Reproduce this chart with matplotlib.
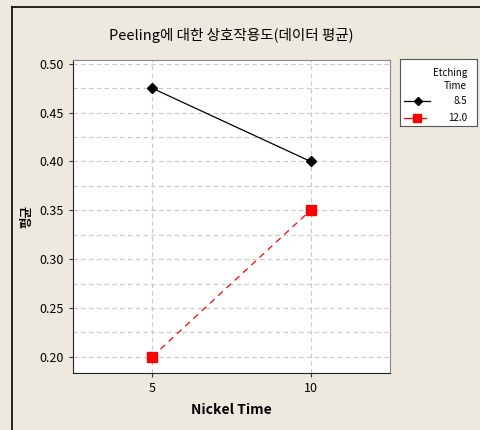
import matplotlib.pyplot as plt
from matplotlib.lines import Line2D

plt.rcParams['font.family'] = ['Noto Sans CJK KR', 'DejaVu Sans']

# Interaction plot data: mean peeling per nickel time, one line per etching time
nickel_time = [5, 10]
etching_levels = ["8.5", "12.0"]
means_85 = [0.475, 0.400]
means_120 = [0.200, 0.350]

y_ticks = [0.20, 0.25, 0.30, 0.35, 0.40, 0.45, 0.50]
y_labels = ["0.20", "0.25", "0.30", "0.35", "0.40", "0.45", "0.50"]

bg = "#ede9df"
W, H = 480, 430
fig = plt.figure(figsize=(4.8, 4.3), dpi=100, facecolor=bg)
ax = fig.add_axes([0.152, 0.133, 0.660, 0.728])
ax.set_facecolor("white")

# window frame lines
fig.add_artist(Line2D([12 / W, 12 / W], [0, 1 - 7 / H], color="black", lw=1.2))
fig.add_artist(Line2D([12 / W, 1], [1 - 7 / H, 1 - 7 / H], color="black", lw=1.2))

styles = [
    dict(color="black", lw=0.9, ls="-", marker="D", ms=5),
    dict(color="red", lw=0.9, ls=(0, (5, 4)), marker="s", ms=6.5),
]
ax.plot(nickel_time, means_85, zorder=3, **styles[0])
ax.plot(nickel_time, means_120, zorder=3, **styles[1])

ax.set_xlim(2.5, 12.5)
ax.set_ylim(0.1836, 0.5041)
ax.set_xticks(nickel_time)
ax.set_yticks(y_ticks)
ax.set_yticklabels(y_labels)
ax.set_yticks([0.225, 0.275, 0.325, 0.375, 0.425, 0.475], minor=True)
ax.tick_params(axis="y", which="minor", length=0)
ax.tick_params(labelsize=9, length=3, color="#333333")
ax.grid(True, which="both", color="#c8c8c8", ls=(0, (4, 3)), lw=0.8)
ax.set_axisbelow(True)
for side in ["top", "right"]:
    ax.spines[side].set_color("#888888")
for side in ["left", "bottom"]:
    ax.spines[side].set_color("#222222")

ax.set_title("Peeling에 대한 상호작용도(데이터 평균)", fontsize=10.5, pad=14)
ax.set_xlabel("Nickel Time", fontsize=10, fontweight="bold", labelpad=6)
ax.set_ylabel("평균", fontsize=9, fontweight="bold", labelpad=4)

# legend box drawn in its own pixel-scaled axes
lx0, ly0, lw_, lh = 400, 59, 77, 67
lax = fig.add_axes([lx0 / W, 1 - (ly0 + lh) / H, lw_ / W, lh / H])
lax.set_xlim(0, lw_)
lax.set_ylim(lh, 0)
lax.set_xticks([])
lax.set_yticks([])
lax.set_facecolor("white")
for s in lax.spines.values():
    s.set_color("#555555")
    s.set_linewidth(0.8)
lax.text(67, 14, "Etching", ha="right", va="center", fontsize=7)
lax.text(67, 27, "Time", ha="right", va="center", fontsize=7)
for i, (lab, st) in enumerate(zip(etching_levels, styles)):
    yy = 42 + i * 17
    lax.plot([4, 30 if i == 0 else 26], [yy, yy], color=st["color"], lw=st["lw"])
    lax.plot([18 if i == 0 else 17], [yy], color=st["color"], marker=st["marker"],
             ms=st["ms"] - 1, ls="none")
    lax.text(67, yy, lab, ha="right", va="center", fontsize=7)

fig.savefig("out.png", dpi=100, facecolor=bg)
